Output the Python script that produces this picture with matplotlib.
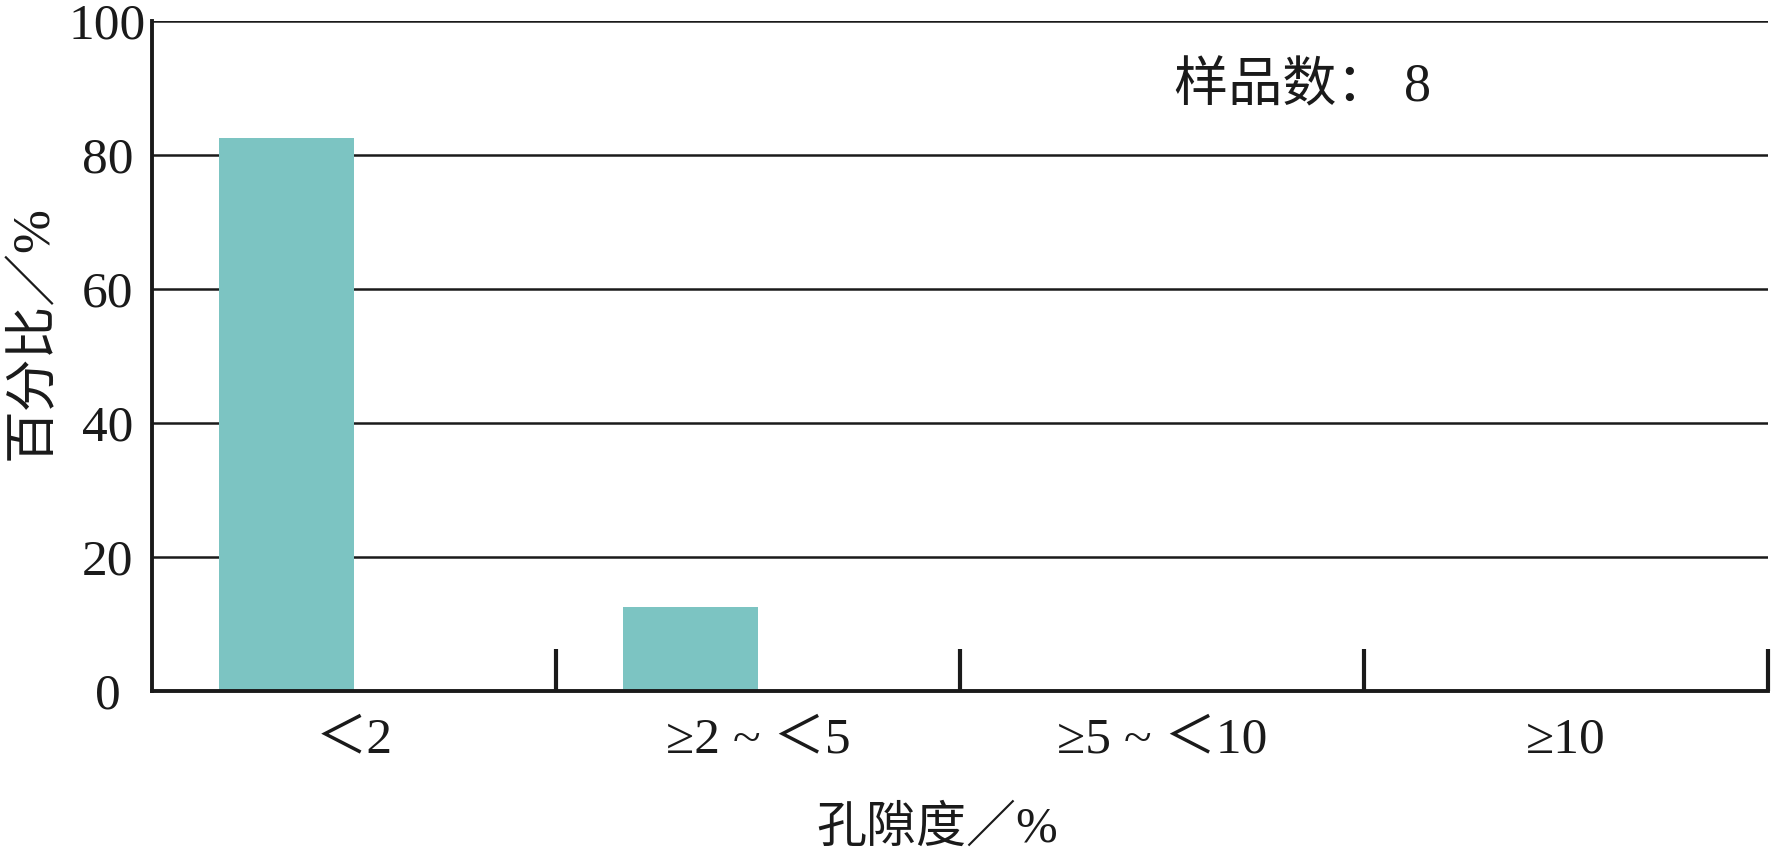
import numpy as np
import matplotlib
matplotlib.use("Agg")
import matplotlib.pyplot as plt

plt.rcParams['font.family'] = ['Liberation Serif', 'Noto Sans CJK SC']

# porosity classes and share of samples (%)
categories = ["＜2", "≥2 ~ ＜5", "≥5 ~ ＜10", "≥10"]
percent = [82.5, 12.5, 0, 0]
sample_count = 8
y_ticks = [0, 20, 40, 60, 80, 100]

bar_color = "#7cc4c2"
ink = "#1a1a1a"

fig = plt.figure(figsize=(17.71, 8.55), dpi=100)
ax = fig.add_axes([0.0858, 0.1922, 0.9125, 0.7836])

x = np.arange(len(categories))
width = 0.334
# bars sit just left of the class centre
ax.bar(x - width / 2, percent, width=width, color=bar_color, zorder=2)

ax.set_xlim(-0.5, len(categories) - 0.5)
ax.set_ylim(0, 100)
ax.set_yticks(y_ticks)
ax.set_xticks(x)
ax.set_xticklabels(categories)
ax.set_xticks(x + 0.5, minor=True)   # class boundaries

ax.yaxis.grid(True, color=ink, linewidth=1.8)
ax.set_axisbelow(True)

for side in ["top", "right"]:
    ax.spines[side].set_visible(False)
for side in ["left", "bottom"]:
    ax.spines[side].set_linewidth(2.8)
    ax.spines[side].set_color(ink)

ax.tick_params(axis="y", which="major", length=0, pad=32, labelsize=37, labelcolor=ink)
ax.tick_params(axis="x", which="major", length=0, pad=19, labelsize=37, labelcolor=ink)
ax.tick_params(axis="x", which="minor", direction="in", length=30, width=3, color=ink)
for lab in ax.get_yticklabels():
    lab.set_ha("center")

ax.set_ylabel("百分比／%", fontsize=38, color=ink)
ax.yaxis.set_label_coords(-0.058, 0.535)
ax.set_xlabel("孔隙度／%", fontsize=36, color=ink, va="top")
ax.xaxis.set_label_coords(0.486, -0.172)

ax.text(2.03, 90, "样品数： %d" % sample_count, fontsize=39, color=ink,
        ha="left", va="center")

fig.savefig("out.png", dpi=100)
